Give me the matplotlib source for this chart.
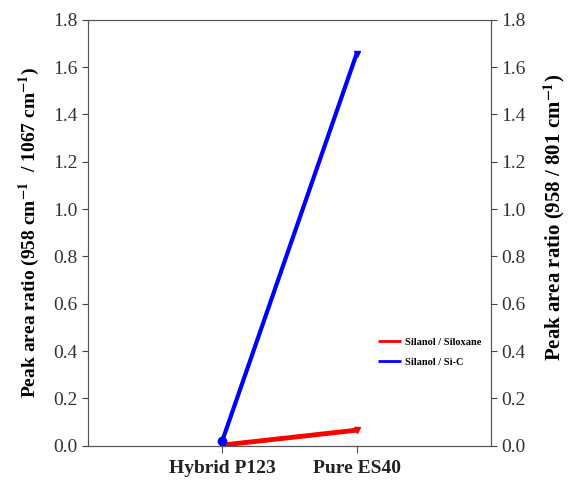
import matplotlib.pyplot as plt

samples = ['Hybrid P123', 'Pure ES40']
siloxane = [0.003, 0.066]   # left axis, 958 / 1067
si_c = [0.021, 1.655]       # right axis, 958 / 801
yticks = [0.0, 0.2, 0.4, 0.6, 0.8, 1.0, 1.2, 1.4, 1.6, 1.8]

plt.rcParams['font.family'] = ['Liberation Serif', 'DejaVu Serif']
plt.rcParams['mathtext.fontset'] = 'stix'

fig = plt.figure(figsize=(5.68, 4.83), dpi=100)
ax = fig.add_axes([0.155, 0.077, 0.709, 0.882])
ax2 = ax.twinx()

x = [1, 2]
ax.plot(x, siloxane, color='#ff0000', lw=3.5, solid_capstyle='butt', label='Silanol / Siloxane')
ax.plot(x[1:], siloxane[1:], 'v', color='#ff0000', ms=5)
ax2.plot(x, si_c, color='#0000ff', lw=3, solid_capstyle='butt', label='Silanol / Si-C')
ax2.plot(x[:1], si_c[:1], 'o', color='#0000ff', ms=6)
ax2.plot(x[1:], si_c[1:], 'v', color='#0000ff', ms=5)

for a in (ax, ax2):
    a.set_ylim(0, 1.8)
    a.set_yticks(yticks)
    a.set_yticklabels(['%.1f' % t for t in yticks])
    a.tick_params(axis='y', labelsize=14, colors='#444444', labelcolor='#333333', length=4, direction='out')
    for s in a.spines.values():
        s.set_color('#555555')

ax.set_xlim(0, 3)
ax.set_xticks(x)
ax.set_xticklabels(samples, fontsize=14, fontweight='bold', color='#222222')
ax.tick_params(axis='x', length=5, colors='#555555', labelcolor='#222222', pad=5)

ax.set_ylabel(r'Peak area ratio (958 cm$^{\mathbf{-1}}$  / 1067 cm$^{\mathbf{-1}}$)', fontsize=14, fontweight='bold', labelpad=8)
ax2.set_ylabel(r'Peak area ratio (958 / 801 cm$^{\mathbf{-1}}$)', fontsize=15, fontweight='bold')
ax2.yaxis.set_label_coords(1.125, 0.535)

handles = ax.get_lines()[:1] + ax2.get_lines()[:1]
leg = ax.legend(handles, [h.get_label() for h in handles], loc='center right',
                bbox_to_anchor=(1.0, 0.22), frameon=False, handlelength=2.2,
                prop={'weight': 'bold', 'size': 7.5}, labelspacing=1.0, handletextpad=0.4)
for h in leg.get_lines():
    h.set_linewidth(2)

fig.savefig('out.png', dpi=100)
